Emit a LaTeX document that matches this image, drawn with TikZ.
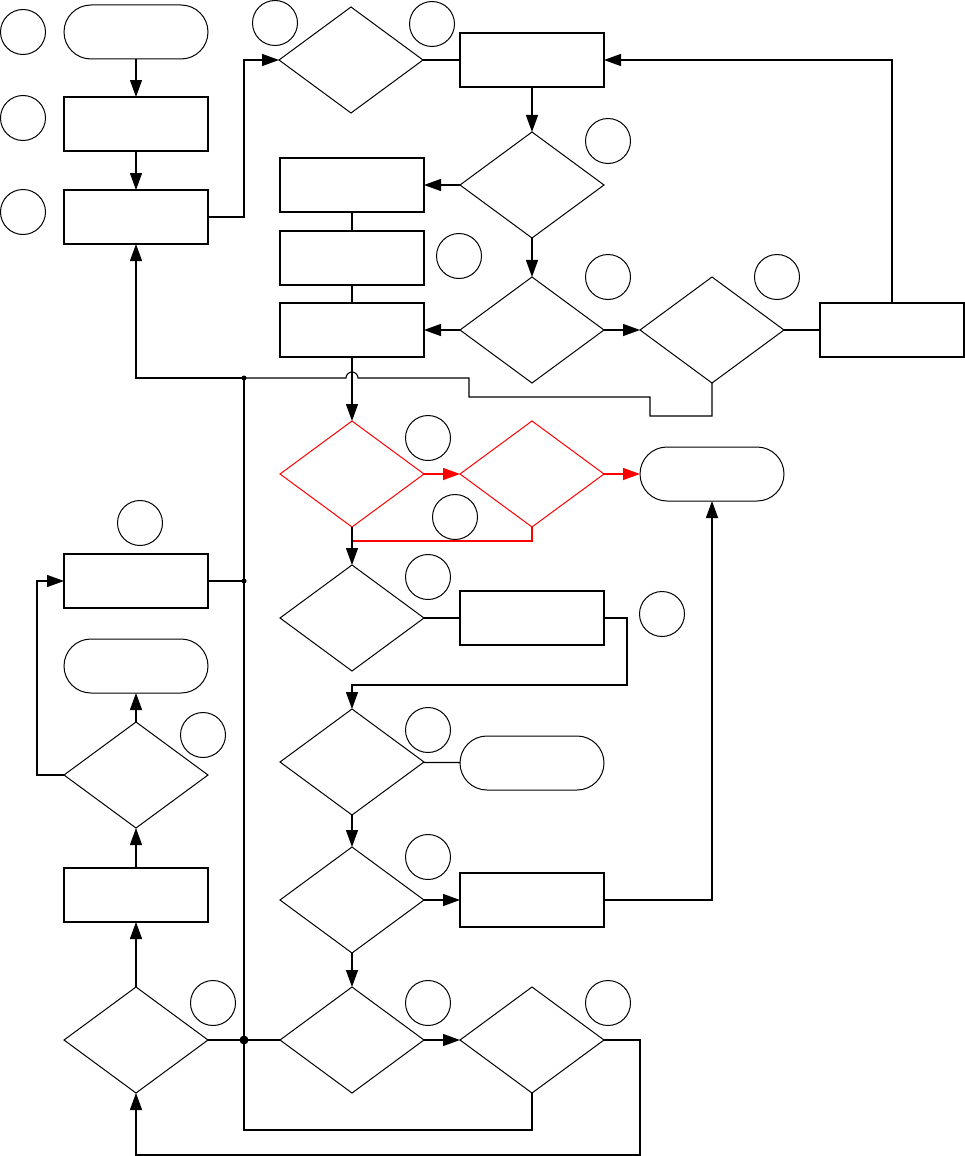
\documentclass[tikz,border=0pt]{standalone}
\usepackage{tikz}
\usetikzlibrary{arrows.meta,positioning,shapes.geometric}

\begin{document}
\begin{tikzpicture}[
  x=1pt, y=-1pt, >={Triangle[length=17pt, width=12pt]},
  block/.style={draw=black, line width=1.5pt, minimum width=144pt, minimum height=54pt, inner sep=0pt, outer sep=0pt},
  terminal/.style={draw=black, line width=1pt, rounded corners=27pt, minimum width=144pt, minimum height=54pt, inner sep=0pt, outer sep=0pt},
  decision/.style={draw=black, diamond, line width=1pt, minimum width=144pt, minimum height=106pt, inner sep=0pt, outer sep=0pt},
  marker/.style={draw=black, circle, line width=1pt, minimum size=45pt, inner sep=0pt},
  arrow/.style={->, line width=1.3pt, black},
  link/.style={line width=1.3pt, black},
  bus/.style={line width=1.1pt, black},
  redarrow/.style={->, line width=1.3pt, red},
  redline/.style={line width=1.3pt, red}
]
\useasboundingbox (0,0) rectangle (965,1156);

% left column, top
\node[terminal] (start) at (136,32) {};
\node[block] (load) at (136,124) {};
\node[block] (prep) at (136,217) {};

% upper block
\node[decision] (qready) at (351,60) {};
\node[block] (fetch) at (532,60) {};
\node[decision] (qvalid) at (532,185) {};
\node[block] (logA) at (352,185) {};
\node[block] (logB) at (352,258) {};
\node[block] (logC) at (352,330) {};
\node[decision] (qmatch) at (532,330) {};
\node[decision] (qretry) at (712,330) {};
\node[block] (wait) at (892,330) {};

% error checks
\node[decision, draw=red] (qerr) at (352,474) {};
\node[decision, draw=red] (qfatal) at (532,474) {};
\node[terminal] (stop) at (712,474) {};

% middle column
\node[decision] (qwarn) at (352,618) {};
\node[block] (warn) at (532,618) {};
\node[decision] (qskip) at (352,762) {};
\node[terminal] (skip) at (532,763) {};
\node[decision] (qdone) at (352,900) {};
\node[block] (save) at (532,900) {};
\node[decision] (qnext) at (352,1040) {};
\node[decision] (qmore) at (532,1040) {};

% left column, bottom
\node[decision] (qloop) at (136,1040) {};
\node[block] (reset) at (136,895) {};
\node[decision] (qlimit) at (136,775) {};
\node[terminal] (abort) at (136,666) {};
\node[block] (retry) at (136,581) {};

% step markers
\node[marker] (m1) at (23,32) {};
\node[marker] (m2) at (23,118) {};
\node[marker] (m3) at (23,212) {};
\node[marker] (m4) at (275,23) {};
\node[marker] (m5) at (432,24) {};
\node[marker] (m6) at (608,141) {};
\node[marker] (m7) at (459,256) {};
\node[marker] (m8) at (608,277) {};
\node[marker] (m9) at (777,277) {};
\node[marker] (m10) at (428,438) {};
\node[marker] (m11) at (455,517) {};
\node[marker] (m12) at (140,523) {};
\node[marker] (m13) at (428,577) {};
\node[marker] (m14) at (662,614) {};
\node[marker] (m15) at (203,735) {};
\node[marker] (m16) at (428,730) {};
\node[marker] (m17) at (428,857) {};
\node[marker] (m18) at (213,1003) {};
\node[marker] (m19) at (428,1003) {};
\node[marker] (m20) at (608,1003) {};

% junctions on the return bus
\coordinate (j1) at (244,378);
\coordinate (j2) at (244,581);
\coordinate (j3) at (244,1040);

\draw[arrow] (start) -- (load);
\draw[arrow] (load) -- (prep);
\draw[arrow] (prep.east) -- ++(36,0) |- (qready.west);
\draw[link] (qready) -- (fetch);
\draw[arrow] (wait.north) |- (fetch.east);
\draw[arrow] (fetch) -- (qvalid);
\draw[arrow] (qvalid) -- (logA);
\draw[arrow] (qvalid) -- (qmatch);
\draw[link] (logA) -- (logB);
\draw[link] (logB) -- (logC);
\draw[arrow] (qmatch) -- (logC);
\draw[arrow] (qmatch) -- (qretry);
\draw[link] (qretry) -- (wait);

% return path with jump
\draw[bus] (qretry.south) -- ++(0,33) -- ++(-62,0) -- ++(0,-19) -- ++(-181,0) -- ++(0,-19)
  -- ([xshift=6pt]logC.south |- j1) arc[start angle=0, end angle=180, radius=6pt] -- (j1);
\draw[arrow] (j1) -| (prep.south);
\draw[bus] (j1) -- (j3);
\draw[bus] (retry.east) -- (j2);
\fill (j1) circle (2.5);
\fill (j2) circle (2.5);
\fill (j3) circle (4.5);

\draw[arrow] (logC) -- (qerr);
\draw[redarrow] (qerr) -- (qfatal);
\draw[redarrow] (qfatal) -- (stop);
\draw[redline] (qfatal.south) -- ++(0,14) -| (qerr.south);
\draw[arrow] (qerr) -- (qwarn);

\draw[link] (qwarn) -- (warn);
\draw[arrow] (warn.east) -- ++(23,0) -- ++(0,67) -| (qskip.north);
\draw[link] (qskip) -- (skip);
\draw[arrow] (qskip) -- (qdone);
\draw[arrow] (qdone) -- (save);
\draw[arrow] (save) -| (stop);
\draw[arrow] (qdone) -- (qnext);
\draw[arrow] (qnext) -- (qmore);
\draw[bus] (qmore.south) -- ++(0,37) -| (j3);
\draw[arrow] (qmore.east) -- ++(36,0) -- ++(0,115) -| (qloop.south);
\draw[link] (qloop) -- (qnext);

\draw[arrow] (qloop) -- (reset);
\draw[arrow] (reset) -- (qlimit);
\draw[arrow] (qlimit) -- (abort);
\draw[arrow] (qlimit.west) -- ++(-27,0) |- (retry.west);

\end{tikzpicture}
\end{document}
